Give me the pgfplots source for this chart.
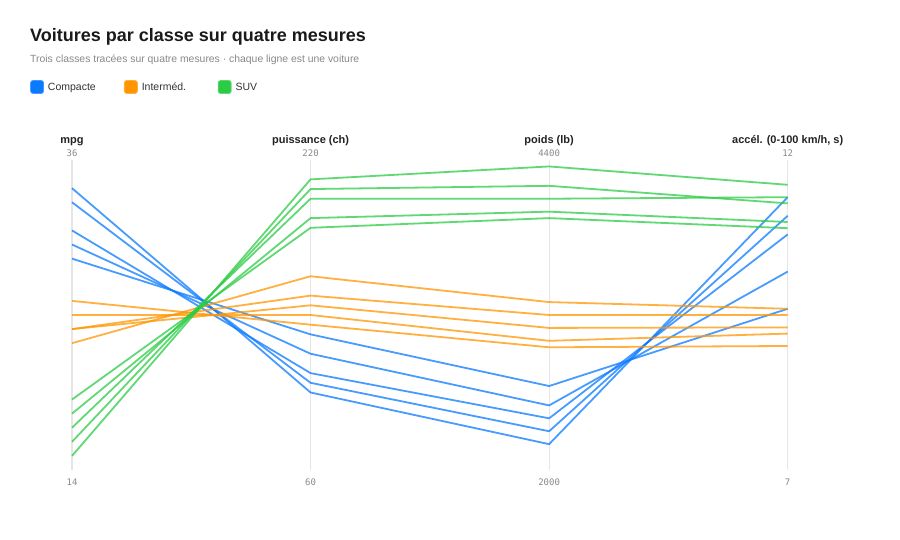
\documentclass[border=0pt]{standalone}
\usepackage{fontspec}
\setmainfont{Liberation Sans}
\newfontfamily\monofont{DejaVu Sans Mono}
\usepackage{pgfplots}
\usepackage{pgfplotstable}
\pgfplotsset{compat=1.18}

\definecolor{cblue}{HTML}{0A7AFF}
\definecolor{corange}{HTML}{FF9500}
\definecolor{cgreen}{HTML}{2BCB45}
\definecolor{titlec}{HTML}{1A1A1A}
\definecolor{labc}{HTML}{222222}
\definecolor{legc}{HTML}{333333}
\definecolor{subc}{HTML}{888888}
\definecolor{gridc}{HTML}{E6E6E6}

% one row per measure: lo/hi = axis range, c1..c5 = the five cars
\pgfplotstableread{
ax lo   hi   c1   c2   c3   c4   c5
0  14   36   34   33   31   30   29
1  60   220  100  105  110  120  130
2  2000 4400 2200 2300 2400 2500 2650
3  7    12   11.4 11.1 10.8 10.2 9.6
}\compacte

\pgfplotstableread{
ax lo   hi   c1   c2   c3   c4   c5
0  14   36   23   24   24   25   26
1  60   220  160  150  145  140  135
2  2000 4400 3300 3200 3100 3000 2950
3  7    12   9.6  9.5  9.3  9.2  9.0
}\intermed

\pgfplotstableread{
ax lo   hi   c1   c2   c3   c4   c5
0  14   36   15   16   17   18   19
1  60   220  210  205  200  190  185
2  2000 4400 4350 4200 4100 4000 3950
3  7    12   11.6 11.3 11.4 11.0 10.9
}\suv

\newcommand\norm[1]{(\thisrow{#1}-\thisrow{lo})/(\thisrow{hi}-\thisrow{lo})}

\begin{document}
\begin{tikzpicture}
\path (0,0) rectangle (900pt,540pt);

\begin{axis}[
    at={(72pt,70pt)}, anchor=south west,
    scale only axis,
    width=715.7pt, height=310pt,
    xmin=0, xmax=3, ymin=0, ymax=1,
    enlargelimits=false,
    clip=false,
    axis line style={draw=none},
    major tick length=0pt,
    ytick=\empty,
    xtick={0,1,2,3},
    xticklabels={14,60,2000,7},
    xticklabel style={font=\monofont\fontsize{9}{10}\selectfont, text=subc,
        anchor=base, inner sep=0pt, yshift=-15.7pt},
    xmajorgrids,
    grid style={gridc, line width=1.2pt},
    every axis plot/.append style={line width=1.8pt, draw opacity=0.75},
    legend columns=3,
    legend style={at={(axis description cs:-0.0587,1.2355)}, anchor=west,
        draw=none, fill=none, inner sep=0pt,
        nodes={inner sep=0pt, text height=7.5pt, text depth=0pt},
        font=\fontsize{10.5}{13}\selectfont, text=legc,
        /tikz/every odd column/.append style={column sep=4pt}},
    legend cell align=left,
    legend image code/.code={\fill[rounded corners=2pt] (0pt,-6pt) rectangle (12pt,6pt);},
]
\addplot[cblue] table[x=ax, y expr=\norm{c1}] {\compacte};
\addlegendentry{\makebox[76pt][l]{Compacte}}
\addplot[cblue, forget plot] table[x=ax, y expr=\norm{c2}] {\compacte};
\addplot[cblue, forget plot] table[x=ax, y expr=\norm{c3}] {\compacte};
\addplot[cblue, forget plot] table[x=ax, y expr=\norm{c4}] {\compacte};
\addplot[cblue, forget plot] table[x=ax, y expr=\norm{c5}] {\compacte};

\addplot[corange] table[x=ax, y expr=\norm{c1}] {\intermed};
\addlegendentry{\makebox[76pt][l]{Interméd.}}
\addplot[corange, forget plot] table[x=ax, y expr=\norm{c2}] {\intermed};
\addplot[corange, forget plot] table[x=ax, y expr=\norm{c3}] {\intermed};
\addplot[corange, forget plot] table[x=ax, y expr=\norm{c4}] {\intermed};
\addplot[corange, forget plot] table[x=ax, y expr=\norm{c5}] {\intermed};

\addplot[cgreen] table[x=ax, y expr=\norm{c1}] {\suv};
\addlegendentry{\makebox[76pt][l]{SUV}}
\addplot[cgreen, forget plot] table[x=ax, y expr=\norm{c2}] {\suv};
\addplot[cgreen, forget plot] table[x=ax, y expr=\norm{c3}] {\suv};
\addplot[cgreen, forget plot] table[x=ax, y expr=\norm{c4}] {\suv};
\addplot[cgreen, forget plot] table[x=ax, y expr=\norm{c5}] {\suv};
\end{axis}

\node[anchor=base west, inner sep=0pt, text=titlec, font=\bfseries\fontsize{18}{22}\selectfont]
  at (30pt,498pt) {Voitures par classe sur quatre mesures};
\node[anchor=base west, inner sep=0pt, text=subc, font=\fontsize{10.4}{12}\selectfont]
  at (30pt,477pt) {Trois classes tracées sur quatre mesures · chaque ligne est une voiture};

\foreach \xx/\name/\top in {72/mpg/36, 310.6/puissance (ch)/220, 549.1/poids (lb)/4400, 787.7/{accél. (0-100 km/h, s)}/12}{
  \node[anchor=base, inner sep=0pt, text=labc, font=\bfseries\fontsize{11}{13}\selectfont]
    at (\xx pt,396pt) {\name};
  \node[anchor=base, inner sep=0pt, text=subc, font=\monofont\fontsize{9}{10}\selectfont]
    at (\xx pt,383pt) {\top};
}
\end{tikzpicture}
\end{document}
